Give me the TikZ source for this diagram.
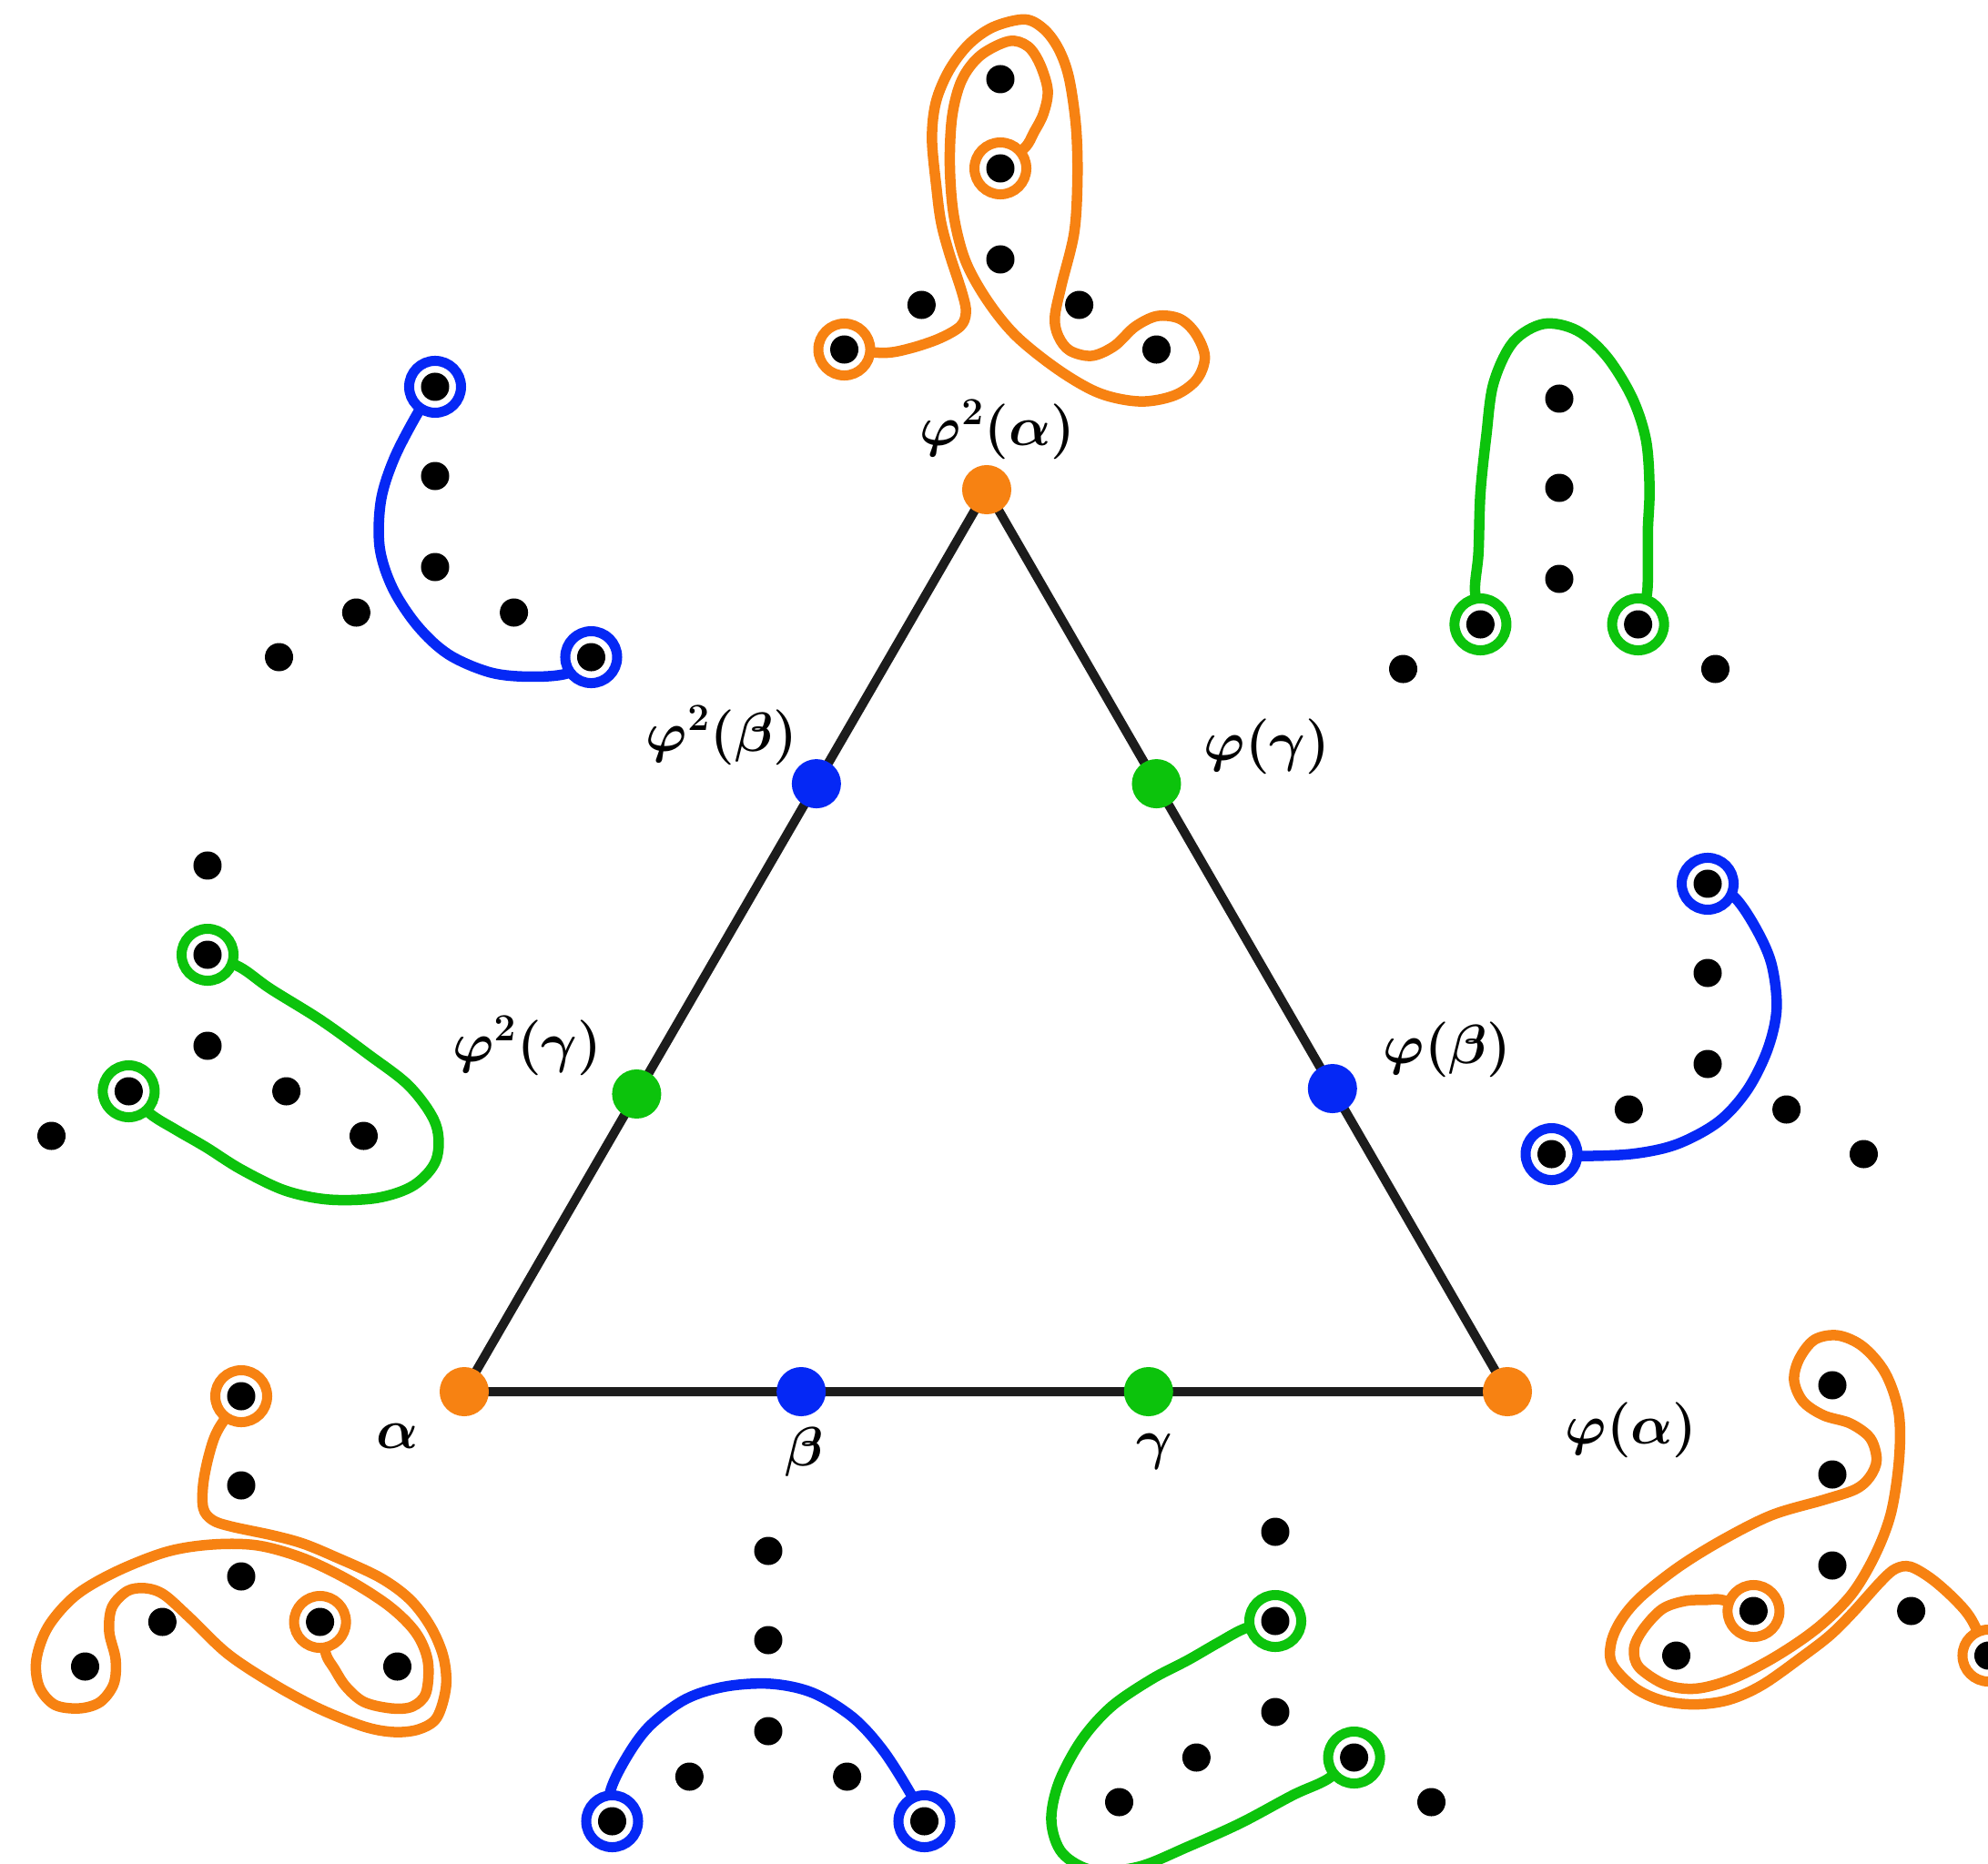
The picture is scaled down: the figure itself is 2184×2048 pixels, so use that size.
\documentclass[tikz,border=0pt]{standalone}
\usetikzlibrary{calc,backgrounds}
\definecolor{orangeC}{RGB}{247,130,18}
\definecolor{blueC}{RGB}{5,40,245}
\definecolor{greenC}{RGB}{12,195,12}
\definecolor{triC}{RGB}{28,28,28}
\tikzset{
  bdot/.style={circle, fill=black, inner sep=0pt, minimum size=0.31cm},
  ringnode/.style={circle, draw=#1, fill=white, line width=0.11cm, inner sep=0pt, minimum size=0.57cm},
  arcline/.style={draw=#1, line width=0.115cm, line cap=round, line join=round},
  bigdot/.style={circle, fill=#1, inner sep=0pt, minimum size=0.54cm},
  lab/.style={font=\fontsize{18}{21}\selectfont\boldmath, text=black, inner sep=1pt},
  triedge/.style={draw=triC, line width=0.1cm},
}
\newcommand\SevenDots[1]{%
  \foreach \p/\q [count=\k] in {0/0, 0/-100, 0/-198, -86.6/50, -171.5/99, 86.6/50, 171.5/99}
    {\node[bdot] (#1d\k) at (\p,\q) {};}%
}
\newcommand\AlphaDiag[3]{%
\begin{scope}[shift={#2}, rotate=#3]
  \coordinate (#1a) at (0,-198);
  \coordinate (#1b) at (86.6,50);
  \draw[arcline=orangeC] plot[smooth, tension=0.55] coordinates {(#1a) (-25,-162) (-35,-135) (-41.7,-102) (-41.7,-75) (-31.7,-62) (-11.7,-55) (35,-45) (68,-36) (102,-22) (152,1) (185,25) (208,55) (222,88) (225,121) (215,155) (195,168) (168,171) (135,165) (85,145) (35,118) (-15,85) (-58,44) (-85,20) (-105,13) (-125,16) (-142,34) (-145,61) (-138,91) (-140,118) (-155,138) (-178,145) (-205,141) (-222,121) (-225,91) (-212,55) (-182,21) (-138,-5) (-82,-27) (-32,-35) (18,-34) (68,-20) (118,4) (163,33) (192,62) (205,93) (203,128) (188,143) (165,145) (135,138) (115,121) (102,101) (93,85) (#1b)};
  \node[ringnode=orangeC] (#1A) at (#1a) {};
  \node[ringnode=orangeC] (#1B) at (#1b) {};
  \SevenDots{#1}
\end{scope}}
\newcommand\BetaDiag[3]{%
\begin{scope}[shift={#2}, rotate=#3]
  \coordinate (#1a) at (-171.5,99);
  \coordinate (#1b) at (171.5,99);
  \draw[arcline=blueC] plot[smooth, tension=0.55] coordinates {(#1a) (-174,68) (-157,31) (-131,-5) (-91,-35) (-47,-49) (3,-52) (49,-42) (93,-15) (126,21) (156,68) (#1b)};
  \node[ringnode=blueC] (#1A) at (#1a) {};
  \node[ringnode=blueC] (#1B) at (#1b) {};
  \SevenDots{#1}
\end{scope}}
\newcommand\GammaDiag[3]{%
\begin{scope}[shift={#2}, rotate=#3]
  \coordinate (#1a) at (0,-100);
  \coordinate (#1b) at (86.6,50);
  \draw[arcline=greenC] plot[smooth, tension=0.55] coordinates {(#1a) (-33,-92) (-63,-76) (-96,-57) (-136,-36) (-180,-6) (-213,31) (-238,78) (-246,120) (-234,155) (-200,174) (-150,170) (-96,148) (-38,122) (20,91) (57,74) (#1b)};
  \node[ringnode=greenC] (#1A) at (#1a) {};
  \node[ringnode=greenC] (#1B) at (#1b) {};
  \SevenDots{#1}
\end{scope}}
\begin{document}
\begin{tikzpicture}[x=0.01cm, y=-0.01cm]
\useasboundingbox (0,0) rectangle (2184,2048);
% triangle vertices and edge points
\node[bigdot=orangeC] (A) at (510,1529) {};
\node[bigdot=orangeC] (B) at (1656,1529) {};
\node[bigdot=orangeC] (C) at (1084,538) {};
\node[bigdot=blueC]  (bt)  at ($(A)!0.323!(B)$) {};
\node[bigdot=greenC] (gm)  at ($(A)!0.656!(B)$) {};
\node[bigdot=greenC] (ggm) at ($(A)!0.33!(C)$) {};
\node[bigdot=blueC]  (gbt) at ($(A)!0.674!(C)$) {};
\node[bigdot=blueC]  (fbt) at ($(B)!0.336!(C)$) {};
\node[bigdot=greenC] (fgm) at ($(B)!0.674!(C)$) {};
\begin{scope}[on background layer]
  \fill[white] (0,0) rectangle (2184,2048);
  \draw[triedge] (A.center) -- (B.center) -- (C.center) -- cycle;
\end{scope}
% labels
\node[lab] (LC)  at (1096,472)  {$\varphi^2(\alpha)$};
\node[lab] (Lgb) at (793,808)   {$\varphi^2(\beta)$};
\node[lab] (Lgg) at (579,1149)  {$\varphi^2(\gamma)$};
\node[lab] (Lfg) at (1392,820)  {$\varphi(\gamma)$};
\node[lab] (Lfb) at (1590,1153) {$\varphi(\beta)$};
\node[lab] (LB)  at (1792,1571) {$\varphi(\alpha)$};
\node[lab] (LA)  at (437,1578)  {$\alpha$};
\node[lab] (Lb)  at (884,1595)  {$\beta$};
\node[lab] (Lg)  at (1268,1595) {$\gamma$};
% small diagrams
\AlphaDiag{al}{(265,1732)}{0}
\AlphaDiag{fal}{(2013,1720)}{-120}
\AlphaDiag{ffal}{(1099,285)}{120}
\BetaDiag{be}{(844,1902)}{0}
\BetaDiag{fbe}{(1876,1169)}{-120}
\BetaDiag{ffbe}{(478,623)}{120}
\GammaDiag{ga}{(1401,1881)}{0}
\GammaDiag{fga}{(1713,636)}{-120}
\GammaDiag{ffga}{(228,1149)}{120}
\end{tikzpicture}
\end{document}
